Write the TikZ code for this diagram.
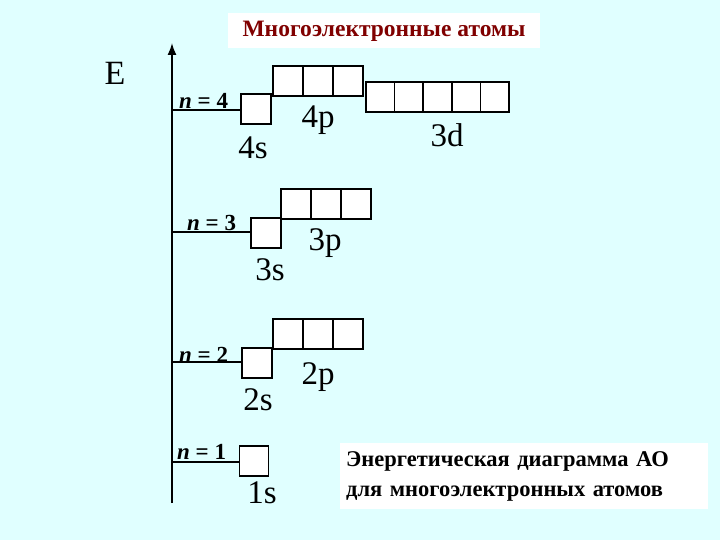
\documentclass[tikz,border=0pt]{standalone}
\usepackage{fontspec}
\setmainfont{Liberation Serif}
\usetikzlibrary{arrows.meta}
\definecolor{bgc}{RGB}{224,255,255}
\definecolor{ttl}{RGB}{128,0,0}
\begin{document}
\begin{tikzpicture}[x=1pt,y=-1pt,
 cell/.style={draw,line width=1.6pt,fill=white,minimum width=#1,minimum height=30pt,inner sep=0pt},
 lvl/.style={font=\fontsize{33}{35}\selectfont},
 nl/.style={font=\fontsize{23}{25}\selectfont\bfseries,anchor=south west,inner sep=1pt},
 ax/.style={line width=1.6pt}]
\fill[bgc] (0,0) rectangle (720,540);
\useasboundingbox (0,0) rectangle (720,540);
\node[fill=white,minimum width=312pt,minimum height=35pt,text=ttl,font=\fontsize{23.5}{25}\selectfont\bfseries] (title) at (384,31) {Многоэлектронные атомы};
\node[font=\fontsize{34}{36}\selectfont] (E) at (115,73) {E};
\coordinate (bot) at (172,503); \coordinate (top) at (172,43);
\draw[ax,-{Latex[length=12pt,width=9pt]}] (bot) -- (top);
% n=4
\node[cell=30pt] (s4) at (256,109) {};
\foreach \i in {0,1,2} \node[cell=30pt] (p4\i) at (288+30*\i,81) {};
\foreach \i in {0,1,2,3,4} \node[cell=28.6pt] (d\i) at (380.3+28.6*\i,97) {};
\coordinate (a4) at (172,110); \draw[ax] (a4) -- (s4.west|-a4);
\node[nl] at (178,110) {\textit{n} = 4};
\node[lvl] at (253,148) {4s};
\node[lvl] at (318,120) {4p};
\node[lvl] at (447,135) {3d};
% n=3
\node[cell=30pt] (s3) at (266,233) {};
\foreach \i in {0,1,2} \node[cell=30pt] (p3\i) at (296+30*\i,204) {};
\coordinate (a3) at (172,232); \draw[ax] (a3) -- (s3.west|-a3);
\node[nl] at (186,232) {\textit{n} = 3};
\node[lvl] at (270,270) {3s};
\node[lvl] at (325,243) {3p};
% n=2
\node[cell=30pt] (s2) at (257,363) {};
\foreach \i in {0,1,2} \node[cell=30pt] (p2\i) at (288+30*\i,334) {};
\coordinate (a2) at (172,362); \draw[ax] (a2) -- (s2.west|-a2);
\node[nl] at (178,364) {\textit{n} = 2};
\node[lvl] at (258,400) {2s};
\node[lvl] at (318,377) {2p};
% n=1
\node[cell=29pt] (s1) at (254,461) {};
\coordinate (a1) at (172,462); \draw[ax] (a1) -- (s1.west|-a1);
\node[nl] at (176,461) {\textit{n} = 1};
\node[lvl] at (262,493) {1s};
\node[fill=white,minimum width=368pt,minimum height=66pt,align=left,anchor=north west,text width=356pt,inner xsep=6pt,font=\fontsize{22.5}{30}\selectfont\bfseries] (cap) at (340,443) {Энергетическая диаграмма АО\\для многоэлектронных атомов};
\end{tikzpicture}
\end{document}
